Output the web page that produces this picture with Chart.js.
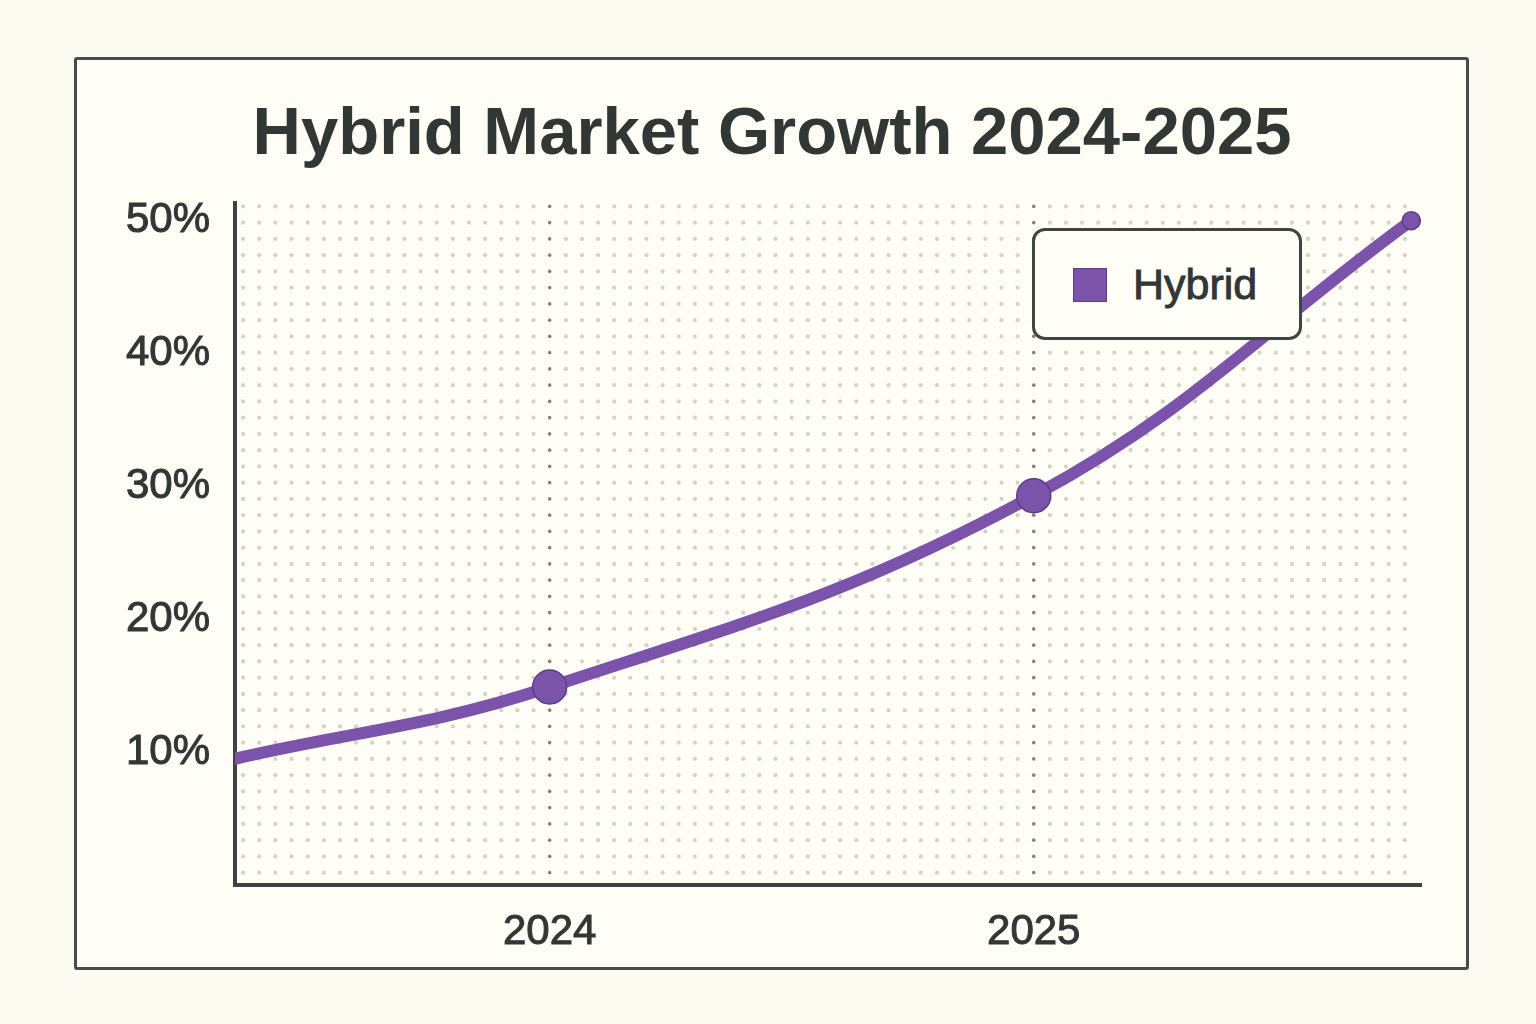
<!DOCTYPE html>
<html>
<head>
<meta charset="utf-8">
<script src="https://cdn.jsdelivr.net/npm/chart.js@4.4.1/dist/chart.umd.min.js"></script>
<style>
  html, body { margin: 0; padding: 0; background: #fcfbf1; }
  body { width: 1536px; height: 1024px; position: relative; overflow: hidden; }
  #frame {
    position: absolute; left: 74px; top: 57px; width: 1395px; height: 913px;
    box-sizing: border-box; border: 3px solid #474c4a; border-radius: 3px; background: #fffef6;
  }
  #wrap { position: absolute; left: 74px; top: 57px; width: 1395px; height: 913px; }
  #legend {
    position: absolute; left: 1032px; top: 228px; width: 270px; height: 112px;
    box-sizing: border-box; border: 3px solid #3f4543; border-radius: 13px; background: #fffef7;
    font-family: "Liberation Sans", Arial, sans-serif; font-size: 43px; color: #313735;
    -webkit-text-stroke: 0.9px #313735;
  }
  #legend .sw {
    position: absolute; left: 38px; top: 37px; width: 34px; height: 34px;
    box-sizing: border-box; border: 1.5px solid #5b3d86;
  }
  #legend .lbl { position: absolute; left: 98px; top: 28px; line-height: 50px; }
</style>
</head>
<body>
<div id="frame"></div>
<div id="wrap"><canvas id="chartHybrid"></canvas></div>
<div id="legend"></div>
<script>
// values
const years = [2023.35, 2024, 2025, 2025.78];
const hybridShare = [9.5, 14.9, 29.3, 50];
const yearTicks = [2024, 2025];
const shareTicks = [10, 20, 30, 40, 50];

const purple = '#7b53ab';
const textColor = '#313735';
const axisColor = '#3d4341';
const font = '"Liberation Sans", Arial, sans-serif';

// dotted background grid, darker dots on the year columns
const dotGrid = {
    id: 'dotGrid',
    beforeDatasetsDraw(chart) {
        const { ctx, chartArea: a, scales } = chart;
        const x1 = scales.x.getPixelForValue(yearTicks[0]);
        const x2 = scales.x.getPixelForValue(yearTicks[1]);
        const step = (x2 - x1) / 30;
        let startX = x1;
        while (startX - step > a.left + 6) startX -= step;
        const stepY = 16.25;
        ctx.save();
        for (let x = startX; x < a.right - 2; x += step) {
            const onYear = Math.abs(x - x1) < 1 || Math.abs(x - x2) < 1;
            ctx.fillStyle = onYear ? '#858369' : '#d5d3c3';
            for (let y = a.top + 3; y < a.bottom - 6; y += stepY) {
                ctx.beginPath();
                ctx.arc(x, y, onYear ? 1.8 : 2.1, 0, Math.PI * 2);
                ctx.fill();
            }
        }
        ctx.restore();
    }
};

const chartHybrid = new Chart(document.getElementById('chartHybrid'), {
    type: 'line',
    data: {
        datasets: [{
            label: 'Hybrid',
            data: years.map((y, i) => ({ x: y, y: hybridShare[i] })),
            borderColor: purple,
            backgroundColor: purple,
            borderWidth: 12,
            tension: 0.4,
            borderCapStyle: 'round',
            pointRadius: [0, 17, 17, 9],
            pointBackgroundColor: purple,
            pointBorderColor: '#5b3d86',
            pointBorderWidth: 1.5,
            pointHoverRadius: [0, 17, 17, 9]
        }]
    },
    options: {
        responsive: true,
        maintainAspectRatio: false,
        animation: false,
        layout: { padding: { left: 49, right: 48, top: 0, bottom: 15 } },
        plugins: {
            legend: { display: false },
            tooltip: { enabled: false },
            title: {
                display: true,
                text: 'Hybrid Market Growth 2024-2025',
                color: textColor,
                font: { family: font, size: 67, weight: 'bold' },
                padding: { top: 38, bottom: 28 }
            }
        },
        scales: {
            x: {
                type: 'linear',
                min: 2023.35,
                max: 2025.8,
                afterBuildTicks: s => { s.ticks = yearTicks.map(v => ({ value: v })); },
                afterFit: s => { s.height = 70; },
                grid: { display: false },
                border: { display: true, color: axisColor, width: 4 },
                ticks: {
                    color: textColor,
                    textStrokeColor: textColor,
                    textStrokeWidth: 1,
                    font: { family: font, size: 42 },
                    padding: 14,
                    callback: v => String(v)
                }
            },
            y: {
                min: 0,
                max: 51.3,
                afterBuildTicks: s => { s.ticks = shareTicks.map(v => ({ value: v })); },
                afterFit: s => { s.width = 112; },
                grid: { display: false },
                border: { display: true, color: axisColor, width: 4 },
                ticks: {
                    color: textColor,
                    textStrokeColor: textColor,
                    textStrokeWidth: 1,
                    font: { family: font, size: 42 },
                    padding: 17,
                    callback: v => v + '%'
                }
            }
        }
    },
    plugins: [dotGrid]
});

// legend box built from the dataset
const legend = document.getElementById('legend');
chartHybrid.data.datasets.forEach(ds => {
    legend.innerHTML = `<div class="sw" style="background:${ds.backgroundColor}"></div><div class="lbl">${ds.label}</div>`;
});
</script>
</body>
</html>
